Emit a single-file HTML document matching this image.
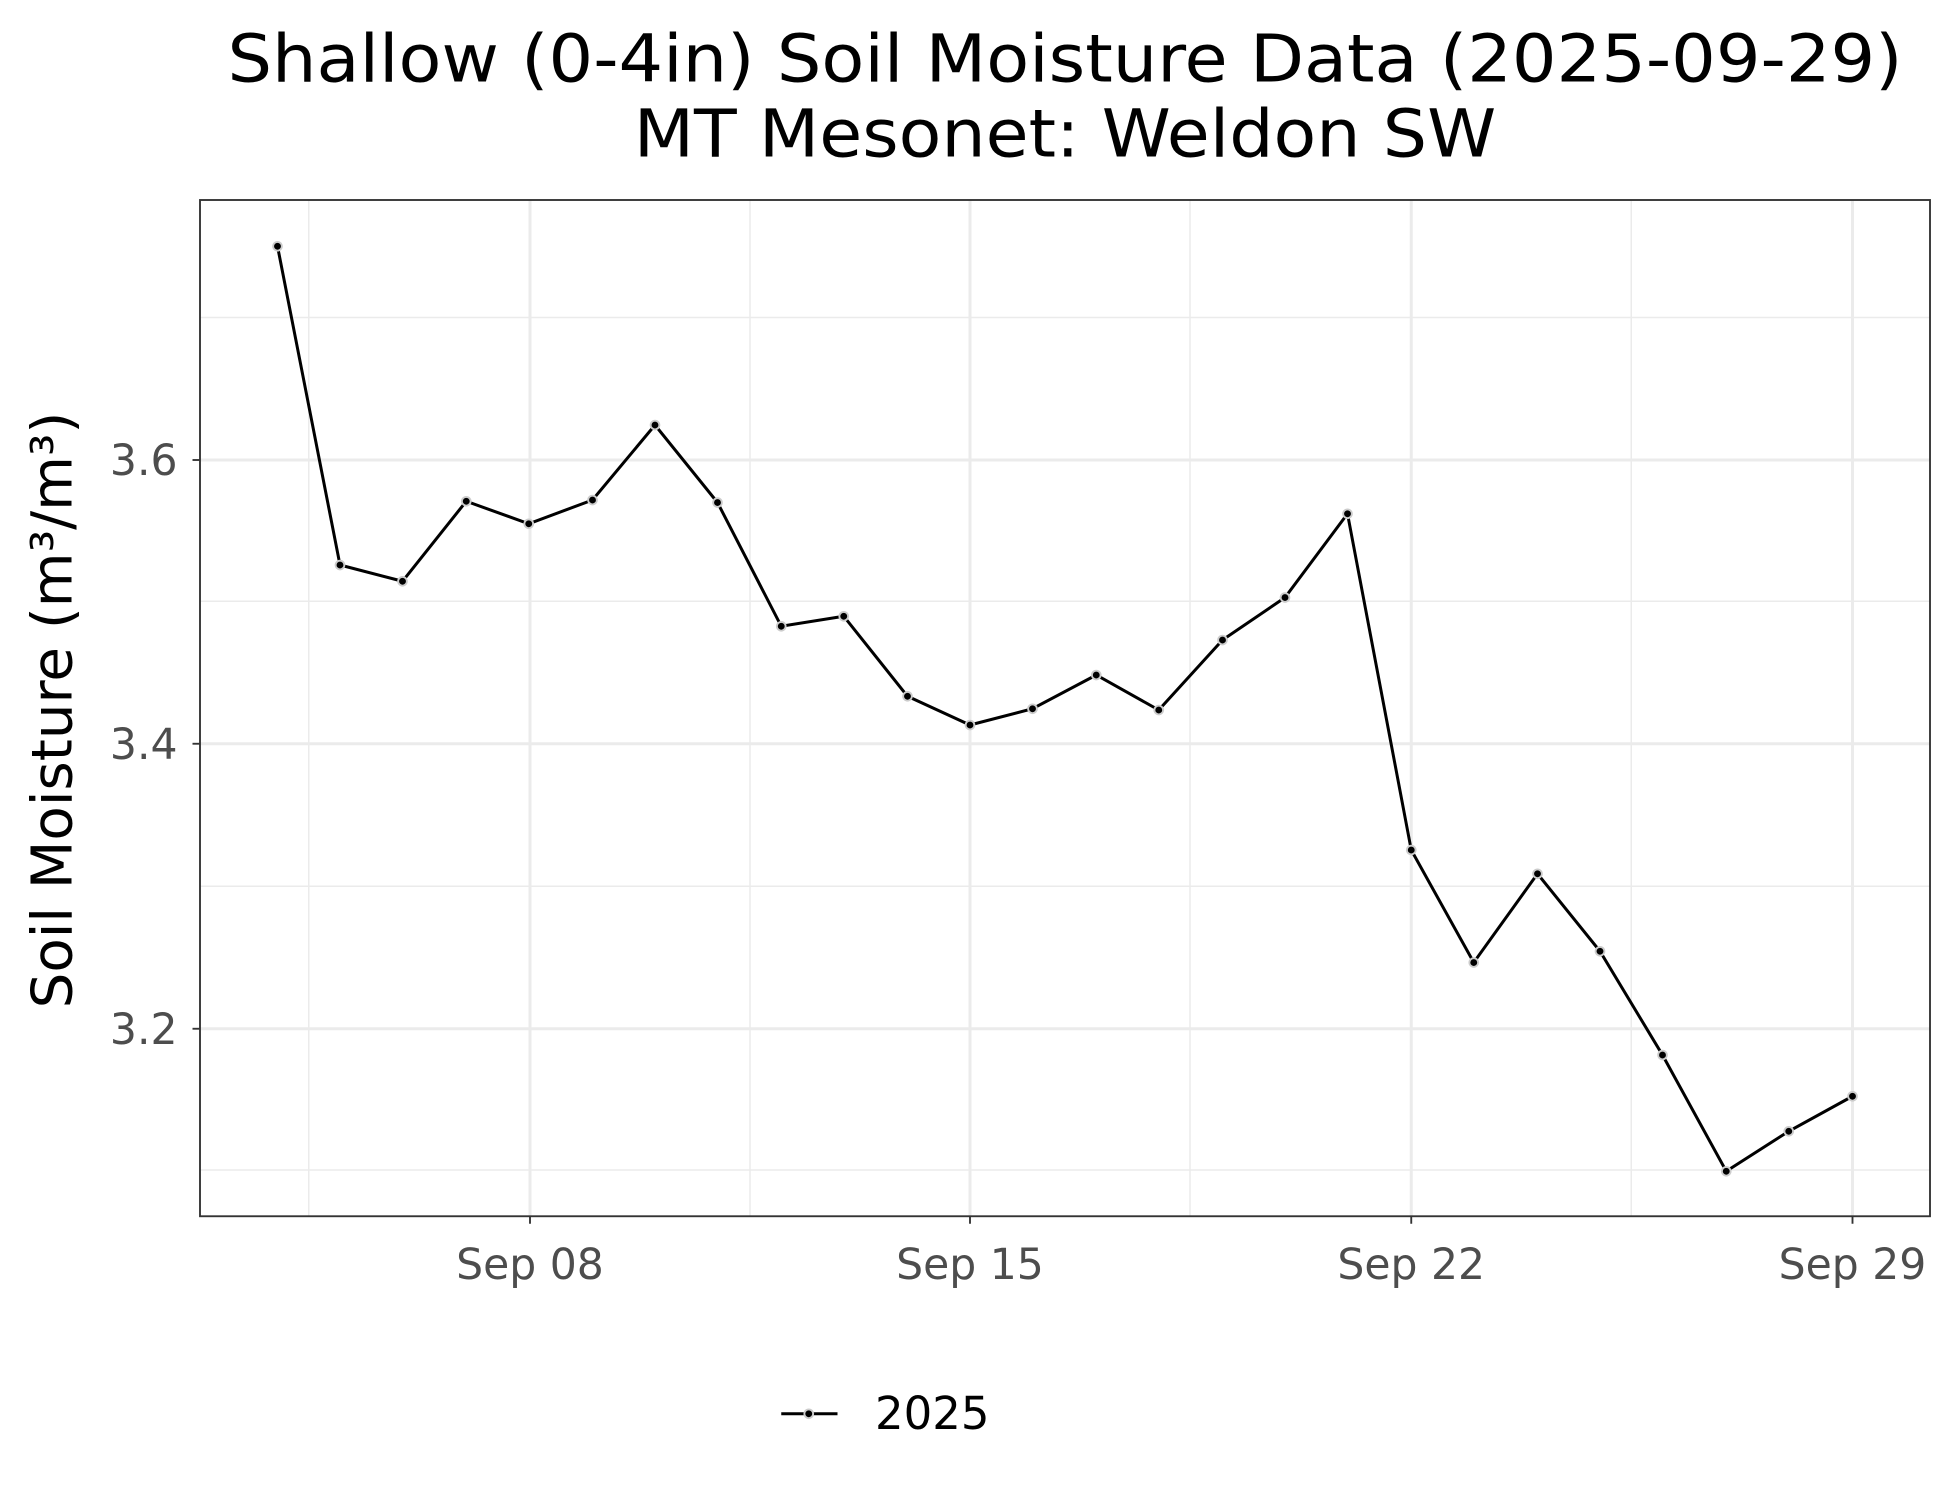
<!DOCTYPE html>
<html><head><meta charset="utf-8"><style>html,body{margin:0;padding:0;background:#fff}svg{display:block}</style></head>
<body>
<svg width="1950" height="1500" viewBox="0 0 1560 1200" xmlns="http://www.w3.org/2000/svg" font-family="DejaVu Sans, Liberation Sans, sans-serif">
<rect width="1560" height="1200" fill="#fff"/>
<text x="852" y="65" font-size="53" text-anchor="middle" fill="#000" textLength="1340" lengthAdjust="spacingAndGlyphs">Shallow (0-4in) Soil Moisture Data (2025-09-29)</text>
<text x="852" y="125" font-size="53" text-anchor="middle" fill="#000" textLength="690" lengthAdjust="spacingAndGlyphs">MT Mesonet: Weldon SW</text>
<g stroke="#ebebeb" stroke-width="1.2">
<line x1="160" x2="1544" y1="254" y2="254"/><line x1="160" x2="1544" y1="481" y2="481"/>
<line x1="160" x2="1544" y1="709" y2="709"/><line x1="160" x2="1544" y1="936" y2="936"/>
<line y1="160" y2="973" x1="247" x2="247"/><line y1="160" y2="973" x1="600" x2="600"/>
<line y1="160" y2="973" x1="952" x2="952"/><line y1="160" y2="973" x1="1305" x2="1305"/>
</g>
<g stroke="#ebebeb" stroke-width="2.4">
<line x1="160" x2="1544" y1="368" y2="368"/><line x1="160" x2="1544" y1="595" y2="595"/><line x1="160" x2="1544" y1="823" y2="823"/>
<line y1="160" y2="973" x1="424" x2="424"/><line y1="160" y2="973" x1="776" x2="776"/><line y1="160" y2="973" x1="1129" x2="1129"/><line y1="160" y2="973" x1="1482" x2="1482"/>
</g>
<polyline fill="none" stroke="#000" stroke-width="2.4" points="222,197 272,452 322,465 373,401 423,419 474,400 524,340 574,402 625,501 675,493 726,557 776,580 826,567 877,540 927,568 978,512 1028,478 1078,411 1129,680 1179,770 1230,699 1280,761 1330,844 1381,937 1431,905 1482,877"/>
<g fill="#000" stroke="#ccc" stroke-width="1.5">
<circle cx="222" cy="197" r="3.5"/><circle cx="272" cy="452" r="3.5"/><circle cx="322" cy="465" r="3.5"/><circle cx="373" cy="401" r="3.5"/><circle cx="423" cy="419" r="3.5"/><circle cx="474" cy="400" r="3.5"/><circle cx="524" cy="340" r="3.5"/><circle cx="574" cy="402" r="3.5"/><circle cx="625" cy="501" r="3.5"/><circle cx="675" cy="493" r="3.5"/><circle cx="726" cy="557" r="3.5"/><circle cx="776" cy="580" r="3.5"/><circle cx="826" cy="567" r="3.5"/><circle cx="877" cy="540" r="3.5"/><circle cx="927" cy="568" r="3.5"/><circle cx="978" cy="512" r="3.5"/><circle cx="1028" cy="478" r="3.5"/><circle cx="1078" cy="411" r="3.5"/><circle cx="1129" cy="680" r="3.5"/><circle cx="1179" cy="770" r="3.5"/><circle cx="1230" cy="699" r="3.5"/><circle cx="1280" cy="761" r="3.5"/><circle cx="1330" cy="844" r="3.5"/><circle cx="1381" cy="937" r="3.5"/><circle cx="1431" cy="905" r="3.5"/><circle cx="1482" cy="877" r="3.5"/>
</g>
<rect x="160" y="160" width="1384" height="813" fill="none" stroke="#333" stroke-width="1.5"/>
<g stroke="#333" stroke-width="1.5">
<line x1="154" x2="160" y1="368" y2="368"/><line x1="154" x2="160" y1="595" y2="595"/><line x1="154" x2="160" y1="823" y2="823"/>
<line y1="973" y2="979" x1="424" x2="424"/><line y1="973" y2="979" x1="776" x2="776"/><line y1="973" y2="979" x1="1129" x2="1129"/><line y1="973" y2="979" x1="1482" x2="1482"/>
</g>
<g font-size="34" fill="#4d4d4d" text-anchor="end">
<text x="142" y="380">3.6</text><text x="142" y="607">3.4</text><text x="142" y="835">3.2</text>
</g>
<g font-size="34" fill="#4d4d4d" text-anchor="middle">
<text x="424" y="1023">Sep 08</text><text x="776" y="1023">Sep 15</text><text x="1129" y="1023">Sep 22</text><text x="1482" y="1023">Sep 29</text>
</g>
<text transform="translate(57,568) rotate(-90)" font-size="45" text-anchor="middle" fill="#000">Soil Moisture (m³/m³)</text>
<line x1="625" x2="670" y1="1131" y2="1131" stroke="#000" stroke-width="2.4"/>
<circle cx="647" cy="1131" r="3.5" fill="#000" stroke="#ccc" stroke-width="1.5"/>
<text x="700" y="1143" font-size="36" fill="#000">2025</text>
</svg>
</body></html>
